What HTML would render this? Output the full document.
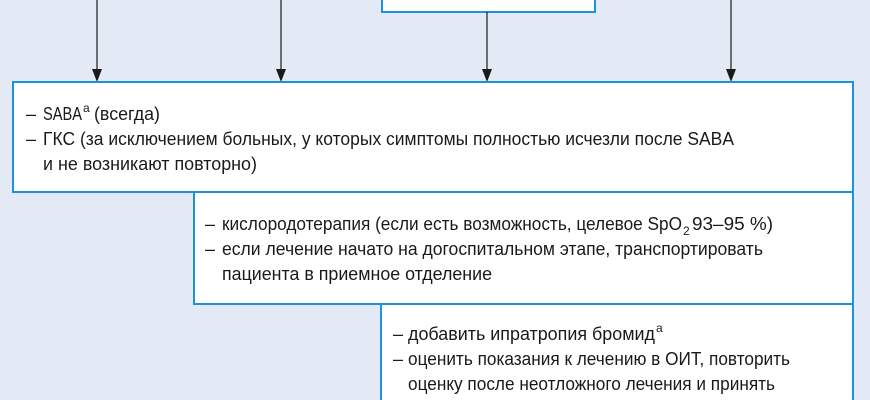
<!DOCTYPE html>
<html><head><meta charset="utf-8"><style>
html,body{margin:0;padding:0;background:#e3eaf5;}
svg{display:block}
text{font-family:"Liberation Sans Narrow","Liberation Sans",sans-serif;font-size:18px;fill:#1a1a1a;}
text.sup{font-size:12px;}
</style></head><body>
<svg width="870" height="400" xmlns="http://www.w3.org/2000/svg">
<rect x="0" y="0" width="870" height="400" fill="#e3eaf5"/>
<rect x="382" y="-5" width="213" height="17" fill="#fff" stroke="#1e92d6" stroke-width="2"/>
<g stroke="#1a1a1a" stroke-width="1.2">
<line x1="97" y1="0" x2="97" y2="72"/>
<line x1="281" y1="0" x2="281" y2="72"/>
<line x1="487" y1="12" x2="487" y2="72"/>
<line x1="731" y1="0" x2="731" y2="72"/>
</g>
<g fill="#1a1a1a">
<polygon points="92,69 102,69 97,82"/>
<polygon points="276,69 286,69 281,82"/>
<polygon points="482,69 492,69 487,82"/>
<polygon points="726,69 736,69 731,82"/>
</g>
<rect x="13" y="82" width="840" height="110" fill="#fff" stroke="#1e92d6" stroke-width="2"/>
<rect x="194" y="192" width="659" height="112" fill="#fff" stroke="#1e92d6" stroke-width="2"/>
<rect x="381" y="304" width="472" height="110" fill="#fff" stroke="#1e92d6" stroke-width="2"/>
<rect x="14" y="183" width="838" height="8" fill="#fff"/>
<line x1="13" y1="192" x2="194" y2="192" stroke="#1e92d6" stroke-width="2"/>
<rect x="195" y="296" width="657" height="7" fill="#fff"/>
<line x1="194" y1="304" x2="381" y2="304" stroke="#1e92d6" stroke-width="2"/>

<!-- box1 -->
<text x="26" y="120">–</text>
<text x="43" y="120" textLength="39" lengthAdjust="spacingAndGlyphs">SABA</text>
<text class="sup" x="83" y="112">a</text>
<text x="94" y="120" textLength="66" lengthAdjust="spacingAndGlyphs">(всегда)</text>
<text x="26" y="145">–</text>
<text x="43" y="145" textLength="691" lengthAdjust="spacingAndGlyphs">ГКС (за исключением больных, у которых симптомы полностью исчезли после SABA</text>
<text x="43" y="170" textLength="214" lengthAdjust="spacingAndGlyphs">и не возникают повторно)</text>

<!-- box2 -->
<text x="205" y="230">–</text>
<text x="222" y="230" textLength="460" lengthAdjust="spacingAndGlyphs">кислородотерапия (если есть возможность, целевое SpO</text>
<text class="sup" x="683" y="235">2</text>
<text x="692" y="230" textLength="81" lengthAdjust="spacingAndGlyphs">93–95 %)</text>
<text x="205" y="255">–</text>
<text x="222" y="255" textLength="541" lengthAdjust="spacingAndGlyphs">если лечение начато на догоспитальном этапе, транспортировать</text>
<text x="222" y="280" textLength="270" lengthAdjust="spacingAndGlyphs">пациента в приемное отделение</text>

<!-- box3 -->
<text x="393" y="340">–</text>
<text x="408" y="340" textLength="247" lengthAdjust="spacingAndGlyphs">добавить ипратропия бромид</text>
<text class="sup" x="656" y="332">a</text>
<text x="393" y="365">–</text>
<text x="408" y="365" textLength="382" lengthAdjust="spacingAndGlyphs">оценить показания к лечению в ОИТ, повторить</text>
<text x="408" y="390" textLength="367" lengthAdjust="spacingAndGlyphs">оценку после неотложного лечения и принять</text>
</svg>
</body></html>
